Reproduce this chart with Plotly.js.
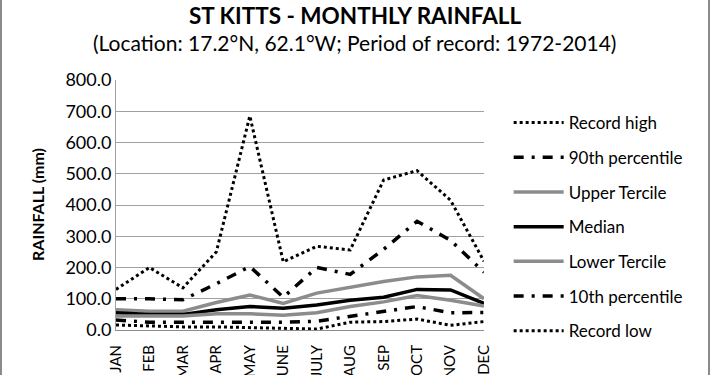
<!DOCTYPE html>
<html>
<head>
<meta charset="utf-8">
<script src="https://cdn.plot.ly/plotly-3.0.1.min.js"></script>
<style>
  html, body { margin: 0; padding: 0; background: #fff; }
  #wrap { position: relative; width: 710px; height: 375px; }
  #chart { width: 710px; height: 375px; }
  #frame { position: absolute; left: 0; top: 0; width: 706px; height: 375px;
           border-left: 2px solid #8a8a8a; border-right: 2px solid #8a8a8a; pointer-events: none; }
</style>
</head>
<body>
<div id="wrap"><div id="chart"></div><div id="frame"></div></div>
<script>
const months = ['JAN','FEB','MAR','APR','MAY','JUNE','JULY','AUG','SEP','OCT','NOV','DEC'];
const recordHigh   = [130, 200, 135, 250, 685, 218, 268, 256, 480, 510, 415, 220];
const pct90        = [100, 100, 97, 148, 203, 105, 200, 178, 258, 348, 287, 185];
const upperTercile = [65, 60, 60, 88, 112, 85, 118, 136, 155, 170, 175, 100];
const median       = [55, 50, 50, 65, 75, 70, 80, 95, 105, 130, 128, 85];
const lowerTercile = [45, 45, 45, 52, 52, 47, 55, 75, 90, 110, 95, 77];
const pct10        = [32, 25, 25, 25, 25, 25, 28, 43, 60, 75, 55, 56];
const recordLow    = [16, 12, 10, 10, 8, 7, 3, 25, 27, 35, 15, 27];
const yTicks = [0, 100, 200, 300, 400, 500, 600, 700, 800];

const FONT = 'Lato, "Open Sans", sans-serif';
const dotDash = '3px,3px';
const dashDot = '10px,8px,3px,8px';

const series = [
  {name: 'Record high',      y: recordHigh,   color: '#000', width: 3, dash: dotDash},
  {name: '90th percentile',  y: pct90,        color: '#000', width: 3.5, dash: dashDot},
  {name: 'Upper Tercile',    y: upperTercile, color: '#8c8c8c', width: 3.5, dash: 'solid'},
  {name: 'Median',           y: median,       color: '#000', width: 3.5, dash: 'solid'},
  {name: 'Lower Tercile',    y: lowerTercile, color: '#8c8c8c', width: 3.5, dash: 'solid'},
  {name: '10th percentile',  y: pct10,        color: '#000', width: 3.5, dash: dashDot},
  {name: 'Record low',       y: recordLow,    color: '#000', width: 3, dash: dotDash}
];

const traces = series.map((s, i) => ({
  type: 'scatter', mode: 'lines', x: months, y: s.y, name: s.name,
  legendgroup: 'g' + i,
  line: {color: s.color, width: s.width, dash: s.dash}
}));

const layout = {
  width: 710, height: 375,
  margin: {l: 116, r: 226, t: 80, b: 45},
  paper_bgcolor: '#fff', plot_bgcolor: '#fff',
  font: {family: FONT, color: '#000', size: 17},
  xaxis: {
    type: 'category', tickangle: -90, showgrid: false,
    showline: true, linecolor: '#8c8c8c', linewidth: 1,
    ticks: '', tickfont: {size: 15, family: FONT}, automargin: false,
    ticklabelstandoff: 8
  },
  yaxis: {
    range: [0, 800], tickvals: yTicks, tickformat: '.1f',
    showgrid: true, gridcolor: '#a0a0a0', gridwidth: 1,
    showline: true, linecolor: '#a0a0a0', linewidth: 1, zeroline: false,
    ticks: '', ticklen: 0, tickfont: {size: 18, family: FONT},
    automargin: false
  },
  annotations: [
    {text: '<b>ST KITTS - MONTHLY RAINFALL</b>', xref: 'paper', yref: 'paper',
     x: (355 - 116) / 368, y: (330 - 15.5) / 250, xanchor: 'center', yanchor: 'middle',
     showarrow: false, font: {size: 22.5, family: FONT, color: '#000'}},
    {text: '(Location: 17.2°N, 62.1°W; Period of record: 1972-2014)', xref: 'paper', yref: 'paper',
     x: (354 - 116) / 368, y: (330 - 42) / 250, xanchor: 'center', yanchor: 'middle',
     showarrow: false, font: {size: 21, family: FONT, color: '#000'}},
    {text: '<b>RAINFALL (mm)</b>', xref: 'paper', yref: 'paper',
     x: (37 - 116) / 368, y: (330 - 205) / 250, xanchor: 'center', yanchor: 'middle',
     textangle: -90, showarrow: false, font: {size: 16, family: FONT, color: '#000'}}
  ],
  showlegend: true,
  legend: {
    x: 1.067, xanchor: 'left', y: 0.9, yanchor: 'top',
    traceorder: 'grouped', tracegroupgap: 9.6,
    font: {size: 17, family: FONT},
    bgcolor: 'rgba(0,0,0,0)', itemwidth: 50
  }
};

Plotly.newPlot('chart', traces, layout, {staticPlot: true, displayModeBar: false});
</script>
</body>
</html>
